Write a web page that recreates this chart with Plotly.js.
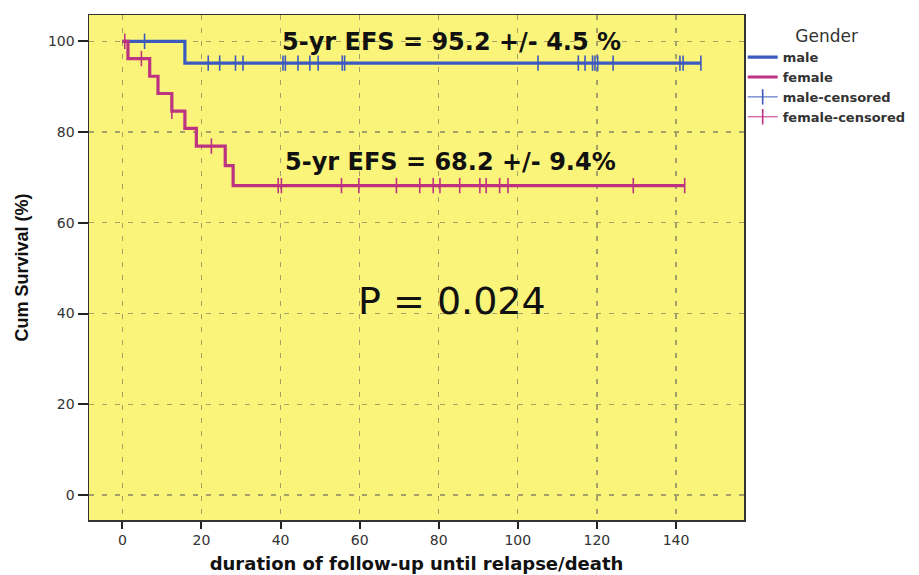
<!DOCTYPE html>
<html><head><meta charset="utf-8">
<script src="https://cdn.plot.ly/plotly-3.0.1.min.js"></script>
<style>html,body{margin:0;padding:0;background:#fff}</style>
</head><body><div id="chart" style="width:919px;height:575px"></div>
<script>
// Kaplan-Meier step curves (months, %)
const maleTime = [0, 15.8, 146.3];
const maleSurv = [100, 95.2, 95.2];
const femaleTime = [0, 1.4, 6.9, 9.0, 12.5, 15.8, 18.7, 26.0, 28.0, 142.2];
const femaleSurv = [100, 96.2, 92.3, 88.5, 84.6, 80.8, 76.9, 72.6, 68.2, 68.2];

// Censored observations
const maleCensTime = [5.6, 21.7, 24.6, 28.6, 30.5, 40.6, 41.2, 44.4, 47.4, 49.5, 55.6, 56.2,
  105.1, 115.3, 117.0, 118.9, 119.5, 120.2, 124.1, 141.0, 141.8, 146.3];
const maleCensSurv = [100, 95.2, 95.2, 95.2, 95.2, 95.2, 95.2, 95.2, 95.2, 95.2, 95.2, 95.2,
  95.2, 95.2, 95.2, 95.2, 95.2, 95.2, 95.2, 95.2, 95.2, 95.2];
const femaleCensTime = [0.6, 4.8, 12.5, 22.5, 39.4, 40.2, 55.4, 59.8, 69.3, 75.2, 78.6, 80.3,
  85.3, 90.4, 92.0, 95.4, 97.5, 129.2, 142.2];
const femaleCensSurv = [100, 96.2, 84.6, 76.9, 68.2, 68.2, 68.2, 68.2, 68.2, 68.2, 68.2, 68.2,
  68.2, 68.2, 68.2, 68.2, 68.2, 68.2, 68.2];

const seriesNames = ['male', 'female', 'male-censored', 'female-censored'];
const xTicks = [0, 20, 40, 60, 80, 100, 120, 140];
const yTicks = [0, 20, 40, 60, 80, 100];
const noteTexts = ['5-yr EFS = 95.2 +/- 4.5 %', '5-yr EFS = 68.2 +/- 9.4%', 'P = 0.024'];
const noteX = [83.1, 83.0, 83.3];
const noteY = [99.9, 73.3, 42.7];

const maleColor = '#3C5ABE';
const femaleColor = '#BE3282';

// break censor line at level changes so the legend can show a line+tick
function withGaps(t, s) {
  const x = [], y = [];
  for (let i = 0; i < t.length; i++) {
    if (i > 0 && s[i] !== s[i - 1]) { x.push(null); y.push(null); }
    x.push(t[i]); y.push(s[i]);
  }
  return {x, y};
}
const mc = withGaps(maleCensTime, maleCensSurv);
const fc = withGaps(femaleCensTime, femaleCensSurv);

const traces = [
  {x: maleTime, y: maleSurv, name: seriesNames[0], mode: 'lines',
   line: {shape: 'hv', color: maleColor, width: 3.2}},
  {x: femaleTime, y: femaleSurv, name: seriesNames[1], mode: 'lines',
   line: {shape: 'hv', color: femaleColor, width: 3.2}},
  {x: mc.x, y: mc.y, name: seriesNames[2], mode: 'lines+markers', connectgaps: false,
   line: {color: maleColor, width: 1},
   marker: {symbol: 'line-ns', size: 11, line: {color: maleColor, width: 1.6}}},
  {x: fc.x, y: fc.y, name: seriesNames[3], mode: 'lines+markers', connectgaps: false,
   line: {color: femaleColor, width: 1},
   marker: {symbol: 'line-ns', size: 11, line: {color: femaleColor, width: 1.6}}}
];

const annotations = noteTexts.map((t, i) => ({
  x: noteX[i], y: noteY[i], xref: 'x', yref: 'y', text: t, showarrow: false,
  xanchor: 'center', yanchor: 'middle',
  font: i < 2 ? {family: 'DejaVu Sans', size: 24, weight: 'bold', color: '#111'}
              : {family: 'DejaVu Sans', size: 38, color: '#111'}
}));

const gridStyle = {showgrid: true, gridcolor: '#A3A06A', gridwidth: 1.2, griddash: '5px,8px'};

const layout = {
  width: 919, height: 575,
  margin: {l: 89, r: 175, t: 15, b: 55, autoexpand: false},
  paper_bgcolor: '#ffffff', plot_bgcolor: '#FAF57A',
  font: {family: 'DejaVu Sans', color: '#333'},
  showlegend: true,
  legend: {x: 0.998, xanchor: 'left', y: 0.99, yanchor: 'top',
    bgcolor: 'rgba(0,0,0,0)', itemwidth: 30, tracegroupgap: 0,
    font: {family: 'DejaVu Sans', size: 13, weight: 'bold', color: '#333'},
    title: {text: 'Gender', side: 'top center',
      font: {family: 'DejaVu Sans', size: 17, weight: 'normal', color: '#333'}}},
  xaxis: Object.assign({
    range: [-8.45, 157.2], tickvals: xTicks, ticktext: xTicks.map(String),
    ticks: 'outside', ticklen: 7, tickwidth: 2, tickcolor: '#222',
    showline: true, mirror: true, linecolor: '#333', linewidth: 1.5, zeroline: false,
    tickfont: {family: 'DejaVu Sans', size: 14, color: '#333'},
    title: {text: 'duration of follow-up until relapse/death', standoff: 10,
      font: {family: 'DejaVu Sans', size: 18, weight: 'bold', color: '#111'}}
  }, gridStyle),
  yaxis: Object.assign({
    range: [-5.5, 105.8], tickvals: yTicks, ticktext: yTicks.map(String),
    ticks: 'outside', ticklen: 10, tickwidth: 2, tickcolor: '#222',
    showline: true, mirror: true, linecolor: '#333', linewidth: 1.5, zeroline: false,
    tickfont: {family: 'DejaVu Sans', size: 14, color: '#333'},
    title: {text: 'Cum Survival (%)', standoff: 14,
      font: {family: 'Liberation Sans, Arial', size: 18, weight: 'bold', color: '#111'}}
  }, gridStyle),
  annotations: annotations
};

Plotly.newPlot('chart', traces, layout, {displayModeBar: false, staticPlot: true});
</script>
</body></html>
